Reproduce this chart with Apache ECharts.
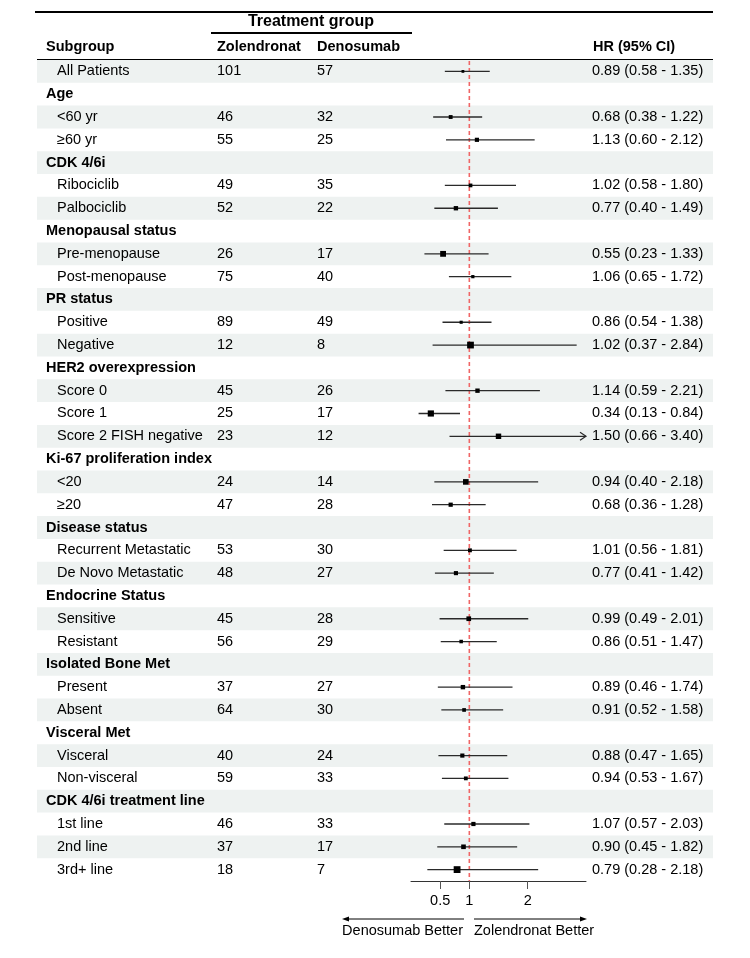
<!DOCTYPE html>
<html><head><meta charset="utf-8">
<script src="https://cdn.jsdelivr.net/npm/echarts@6/dist/echarts.min.js"></script>
<style>html,body{margin:0;padding:0;background:#fff}#c{width:750px;height:958px}</style>
</head><body><div id="c"></div>
<script>
// ---------- data ----------
const subgroups = ['All Patients','Age','<60 yr','≥60 yr','CDK 4/6i','Ribociclib','Palbociclib',
  'Menopausal status','Pre-menopause','Post-menopause','PR status','Positive','Negative',
  'HER2 overexpression','Score 0','Score 1','Score 2 FISH negative','Ki-67 proliferation index',
  '<20','≥20','Disease status','Recurrent Metastatic','De Novo Metastatic','Endocrine Status',
  'Sensitive','Resistant','Isolated Bone Met','Present','Absent','Visceral Met','Visceral',
  'Non-visceral','CDK 4/6i treatment line','1st line','2nd line','3rd+ line'];
const zolN  = [101,null,46,55,null,49,52,null,26,75,null,89,12,null,45,25,23,null,24,47,null,53,48,null,45,56,null,37,64,null,40,59,null,46,37,18];
const denoN = [57,null,32,25,null,35,22,null,17,40,null,49,8,null,26,17,12,null,14,28,null,30,27,null,28,29,null,27,30,null,24,33,null,33,17,7];
const hr    = [0.89,null,0.68,1.13,null,1.02,0.77,null,0.55,1.06,null,0.86,1.02,null,1.14,0.34,1.50,null,0.94,0.68,null,1.01,0.77,null,0.99,0.86,null,0.89,0.91,null,0.88,0.94,null,1.07,0.90,0.79];
const lower = [0.58,null,0.38,0.60,null,0.58,0.40,null,0.23,0.65,null,0.54,0.37,null,0.59,0.13,0.66,null,0.40,0.36,null,0.56,0.41,null,0.49,0.51,null,0.46,0.52,null,0.47,0.53,null,0.57,0.45,0.28];
const upper = [1.35,null,1.22,2.12,null,1.80,1.49,null,1.33,1.72,null,1.38,2.84,null,2.21,0.84,3.40,null,2.18,1.28,null,1.81,1.42,null,2.01,1.47,null,1.74,1.58,null,1.65,1.67,null,2.03,1.82,2.18];
const tickValues = [0.5, 1, 2];
const refValue = 1;
const axisMin = 0, axisMax = 3;
const headerLabels = ['Subgroup','Zolendronat','Denosumab','HR (95% CI)'];
const groupTitle = 'Treatment group';
const betterLeft = 'Denosumab Better', betterRight = 'Zolendronat Better';

// ---------- chart ----------
const FONT = '"Liberation Sans", Arial, Helvetica, sans-serif';
const FS = 14.5;
const chart = echarts.init(document.getElementById('c'), null, {renderer:'canvas'});
const fmt = v => v.toFixed(2);
const isHeader = i => hr[i] === null;

const bgData = subgroups.map((s,i)=>[0,i]);
const ciData = [];
hr.forEach((v,i)=>{ if(v!==null) ciData.push([v,i,lower[i],upper[i]]); });

const option = {
  animation:false,
  backgroundColor:'#ffffff',
  grid:{left:411, right:164, top:60, bottom:77, containLabel:false},
  xAxis:{type:'value', min:axisMin, max:axisMax,
    axisLine:{show:true, lineStyle:{color:'#333', width:1}},
    axisTick:{show:true, customValues:tickValues, length:8, lineStyle:{color:'#555'}},
    axisLabel:{show:true, customValues:tickValues, margin:12, color:'#000', fontSize:FS, fontFamily:FONT,
      formatter: v => String(v)},
    splitLine:{show:false}},
  yAxis:{type:'category', data:subgroups, inverse:true, show:false},
  series:[
    { // row shading
      type:'custom', z:1, silent:true, data:bgData,
      renderItem:(params, api)=>{
        const i = api.value(1);
        if(i % 2 !== 0) return null;
        const c = api.coord([0,i]);
        const h = api.size([0,1])[1];
        return {type:'rect', shape:{x:37, y:c[1]-h/2, width:713-37, height:h}, style:{fill:'#eef2f1'}};
      }
    },
    { // text columns
      type:'custom', z:2, silent:true, data:bgData,
      renderItem:(params, api)=>{
        const i = api.value(1);
        const y = api.coord([0,i])[1];
        const kids = [];
        const base = {fill:'#000', verticalAlign:'middle', align:'left', fontFamily:FONT, fontSize:FS};
        if(isHeader(i)){
          kids.push({type:'text', style:Object.assign({}, base, {text:subgroups[i], x:46, y:y, fontWeight:'bold'})});
        } else {
          kids.push({type:'text', style:Object.assign({}, base, {text:subgroups[i], x:57, y:y})});
          kids.push({type:'text', style:Object.assign({}, base, {text:String(zolN[i]), x:217, y:y})});
          kids.push({type:'text', style:Object.assign({}, base, {text:String(denoN[i]), x:317, y:y})});
          kids.push({type:'text', style:Object.assign({}, base, {text:fmt(hr[i])+' ('+fmt(lower[i])+' - '+fmt(upper[i])+')', x:592, y:y})});
        }
        return {type:'group', children:kids};
      }
    },
    { // reference line at HR = 1
      type:'custom', z:3, silent:true, data:[[refValue, 0]],
      renderItem:(params, api)=>{
        const top = api.coord([api.value(0), 0]);
        const h = api.size([0,1])[1];
        const bot = api.coord([api.value(0), subgroups.length-1]);
        return {type:'line', shape:{x1:top[0], y1:top[1]-h/2+1, x2:bot[0], y2:bot[1]+h/2},
          style:{stroke:'#f06666', lineWidth:1.6, lineDash:[4,3]}};
      }
    },
    { // CI lines and boxes
      type:'custom', z:4, silent:true, data:ciData,
      renderItem:(params, api)=>{
        const v = api.value(0), i = api.value(1), lo = api.value(2), hi = api.value(3);
        const p = api.coord([v,i]);
        const x1 = api.coord([Math.max(lo,axisMin), i])[0];
        const x2 = api.coord([Math.min(hi,axisMax), i])[0];
        const se = (Math.log(hi) - Math.log(lo)) / (2*1.96);
        const s = Math.max(2.5, se*13);
        const kids = [
          {type:'line', shape:{x1:x1, y1:p[1], x2:x2, y2:p[1]}, style:{stroke:'#2a2a2a', lineWidth:1.3}},
          {type:'rect', shape:{x:p[0]-s/2, y:p[1]-s/2, width:s, height:s}, style:{fill:'#000'}}
        ];
        if(hi > axisMax){
          kids.push({type:'polyline', shape:{points:[[x2-6,p[1]-4],[x2,p[1]],[x2-6,p[1]+4]]}, style:{stroke:'#2a2a2a', lineWidth:1.2, fill:null}});
        }
        return {type:'group', children:kids};
      }
    }
  ],
  graphic:[
    {type:'line', shape:{x1:35, y1:12, x2:713, y2:12}, style:{stroke:'#000', lineWidth:2}},
    {type:'text', style:{text:groupTitle, x:311, y:22, align:'center', verticalAlign:'middle', fontFamily:FONT, fontSize:16, fontWeight:'bold', fill:'#000'}},
    {type:'line', shape:{x1:211, y1:33, x2:412, y2:33}, style:{stroke:'#000', lineWidth:2}},
    {type:'text', style:{text:headerLabels[0], x:46, y:47, verticalAlign:'middle', fontFamily:FONT, fontSize:FS, fontWeight:'bold', fill:'#000'}},
    {type:'text', style:{text:headerLabels[1], x:217, y:47, verticalAlign:'middle', fontFamily:FONT, fontSize:FS, fontWeight:'bold', fill:'#000'}},
    {type:'text', style:{text:headerLabels[2], x:317, y:47, verticalAlign:'middle', fontFamily:FONT, fontSize:FS, fontWeight:'bold', fill:'#000'}},
    {type:'text', style:{text:headerLabels[3], x:593, y:47, verticalAlign:'middle', fontFamily:FONT, fontSize:FS, fontWeight:'bold', fill:'#000'}},
    {type:'line', shape:{x1:37, y1:60, x2:713, y2:60}, style:{stroke:'#000', lineWidth:2}},
    // direction arrows
    {type:'line', shape:{x1:464, y1:919, x2:348, y2:919}, style:{stroke:'#000', lineWidth:1}},
    {type:'polygon', shape:{points:[[342,919],[349,916.5],[349,921.5]]}, style:{fill:'#000'}},
    {type:'line', shape:{x1:474, y1:919, x2:581, y2:919}, style:{stroke:'#000', lineWidth:1}},
    {type:'polygon', shape:{points:[[587,919],[580,916.5],[580,921.5]]}, style:{fill:'#000'}},
    {type:'text', style:{text:betterLeft, x:463, y:931, align:'right', verticalAlign:'middle', fontFamily:FONT, fontSize:FS, fill:'#000'}},
    {type:'text', style:{text:betterRight, x:474, y:931, align:'left', verticalAlign:'middle', fontFamily:FONT, fontSize:FS, fill:'#000'}}
  ]
};
chart.setOption(option);
</script></body></html>
